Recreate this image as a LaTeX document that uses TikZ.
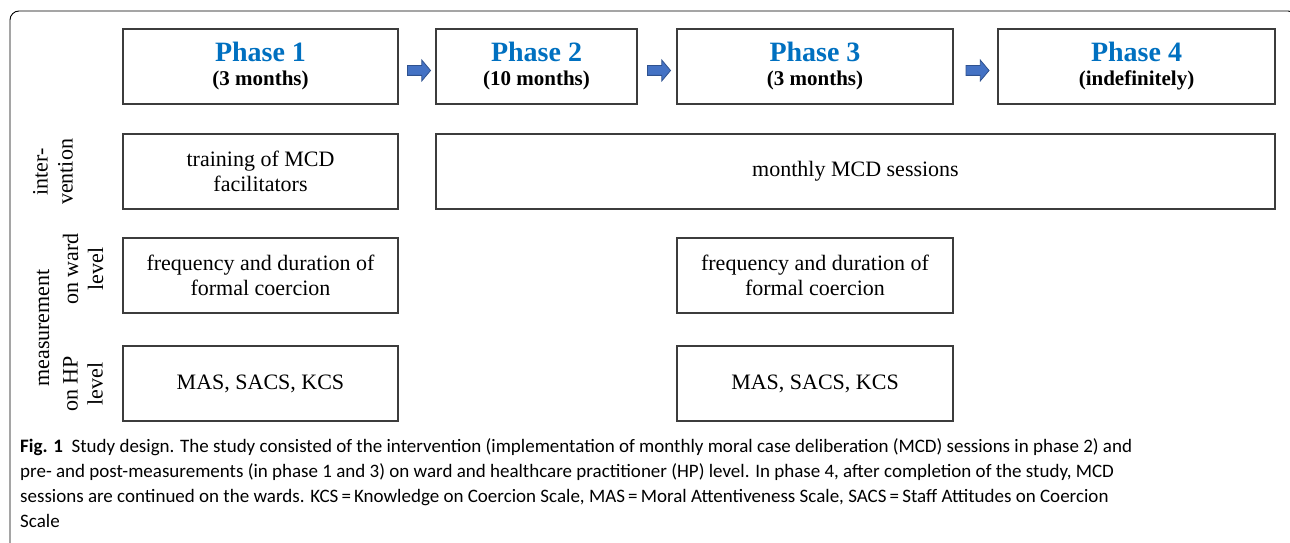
\documentclass[tikz,border=0pt]{standalone}
\usepackage{fontspec}
\setmainfont{Liberation Serif}
\newfontfamily\capfont{Carlito}
\usetikzlibrary{positioning,calc,shapes.arrows}

\begin{document}
\begin{tikzpicture}[x=1pt,y=1pt]
\definecolor{phaseBlue}{RGB}{0, 112, 192}
			\definecolor{arrowFill}{RGB}{68, 114, 196}
			\definecolor{arrowLine}{RGB}{47, 82, 143}
			\definecolor{boxLine}{RGB}{60, 60, 60}
			\tikzstyle{box}=[rectangle, draw=boxLine, line width=1.3pt, minimum height=75pt, align=center, inner sep=2pt, font=\fontsize{22}{25}\selectfont]
			\tikzstyle{phase}=[box, minimum width=275pt]
			\tikzstyle{blockarrow}=[single arrow, draw=arrowLine, fill=arrowFill, line width=0.8pt, minimum height=23pt, inner xsep=0pt, inner ysep=4.5pt, single arrow head extend=5.5pt, single arrow tip angle=100]
			\tikzstyle{rowlabel}=[rotate=90, align=center, inner sep=0pt, font=\fontsize{22}{25}\selectfont]

			\useasboundingbox (0,0) rectangle (1290,542);
			\begin{scope}
			\clip (0,0) rectangle (1290,542);
			\draw[line width=0.9pt, rounded corners=9pt] (10,-20) -- (10,531) -- (1297,531) -- (1297,-20);
			\end{scope}

			% phases
			\node [phase] (p1) at (260.5,475.5) {{\fontsize{28}{28}\selectfont\bfseries\color{phaseBlue}Phase 1}\\[-1pt]{\fontsize{21}{25}\selectfont\bfseries (3 months)}};
			\node [phase, minimum width=201pt] (p2) at (536.5,475.5) {{\fontsize{28}{28}\selectfont\bfseries\color{phaseBlue}Phase 2}\\[-1pt]{\fontsize{21}{25}\selectfont\bfseries (10 months)}};
			\node [phase, minimum width=276pt] (p3) at (815,475.5) {{\fontsize{28}{28}\selectfont\bfseries\color{phaseBlue}Phase 3}\\[-1pt]{\fontsize{21}{25}\selectfont\bfseries (3 months)}};
			\node [phase, minimum width=277pt] (p4) at (1136.5,475.5) {{\fontsize{28}{28}\selectfont\bfseries\color{phaseBlue}Phase 4}\\[-1pt]{\fontsize{21}{25}\selectfont\bfseries (indefinitely)}};

			\node [blockarrow] (a12) at ($(p1.east)!0.5!(p2.west)+(0,-4)$) {};
			\node [blockarrow] (a23) at ($(p2.east)!0.5!(p3.west)+(0,-4)$) {};
			\node [blockarrow] (a34) at ($(p3.east)!0.5!(p4.west)+(0,-4)$) {};

			% intervention
			\node [box, minimum width=275pt] (train) at (260.5,370.5) {training of MCD\\facilitators};
			\node [box, minimum width=839pt] (sessions) at (855.5,370.5) {monthly MCD sessions};

			% measurement
			\node [box, minimum width=275pt] (ward1) at (260.5,266.5) {frequency and duration of\\formal coercion};
			\node [box, minimum width=276pt] (ward3) at (815,266.5) {frequency and duration of\\formal coercion};
			\node [box, minimum width=275pt] (hp1) at (260.5,158.5) {MAS, SACS, KCS};
			\node [box, minimum width=276pt] (hp3) at (815,158.5) {MAS, SACS, KCS};

			\node [rowlabel] (lint) at (53,370) {inter-\\vention};
			\node [rowlabel] (lmeas) at (43,214) {measurement};
			\node [rowlabel] (lward) at (83,273) {on ward\\level};
			\node [rowlabel] (lhp) at (83,158) {on HP\\level};

			% caption
			\node [anchor=base west, align=left, inner sep=0pt, font=\capfont\fontsize{19}{25}\selectfont] (caption) at (20,15)
			{\textbf{Fig. 1}\ \ Study design. The study consisted of the intervention (implementation of monthly moral case deliberation (MCD) sessions in phase 2) and\\
			pre- and post-measurements (in phase 1 and 3) on ward and healthcare practitioner (HP) level. In phase 4, after completion of the study, MCD\\
			sessions are continued on the wards. KCS\,=\,Knowledge on Coercion Scale, MAS\,=\,Moral Attentiveness Scale, SACS\,=\,Staff Attitudes on Coercion\\
			Scale};
		\end{tikzpicture}
\end{document}
